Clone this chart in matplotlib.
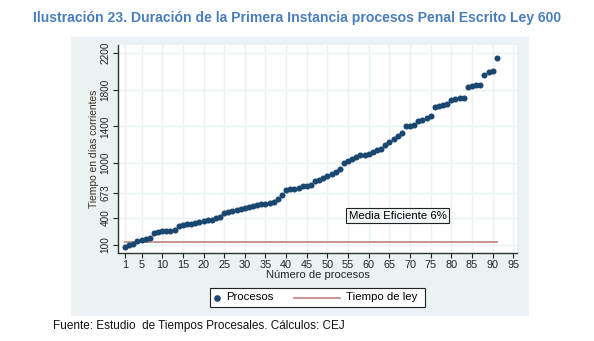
import matplotlib
matplotlib.use("Agg")
import matplotlib.pyplot as plt
import matplotlib.patches as mpatches
from matplotlib.lines import Line2D

# duración (días corrientes) de cada proceso, ordenada
procesos = list(range(1, 92))
dias = [75, 100, 115, 140, 150, 170, 180, 235, 245, 248,
        250, 255, 262, 305, 318, 325, 332, 340, 348, 358,
        368, 378, 390, 410, 455, 460, 470, 488, 495, 505,
        515, 525, 535, 545, 552, 560, 575, 600, 650, 700,
        710, 715, 725, 742, 750, 760, 800, 815, 838, 855,
        875, 895, 935, 1000, 1020, 1040, 1060, 1080, 1090, 1100,
        1120, 1135, 1150, 1190, 1230, 1260, 1290, 1330, 1400, 1405,
        1410, 1460, 1470, 1490, 1515, 1615, 1625, 1635, 1645, 1690,
        1700, 1705, 1705, 1830, 1840, 1850, 1855, 1960, 1995, 2005,
        2150]
tiempo_ley = 130
y_ticks = [100, 400, 673, 1000, 1400, 1800, 2200]
x_ticks = [1] + list(range(5, 100, 5))

navy = '#1a476f'
ley_color = '#c98a8c'
region_bg = '#eaf2f3'

plt.rcParams['font.family'] = ['Liberation Sans', 'DejaVu Sans']

W, H = 594, 341
fig = plt.figure(figsize=(W / 100, H / 100), dpi=100)
fig.patch.set_facecolor('white')


def fx(px):
    return px / W


def fy(py):
    return 1 - py / H


# graph region (light blue box)
fig.patches.append(mpatches.Rectangle((fx(71), fy(316)), 458 / W, 279 / H,
                                      transform=fig.transFigure, facecolor=region_bg,
                                      edgecolor='none', zorder=-10))

ax = fig.add_axes([fx(118), fy(253), 399 / W, 208 / H])
ax.set_facecolor('white')
ax.set_xlim(-0.7, 95.9)
ax.set_ylim(12, 2290)

ax.scatter(procesos, dias, s=19, color=navy, zorder=3, linewidths=0)
ax.plot([procesos[0], procesos[-1]], [tiempo_ley, tiempo_ley], color=ley_color,
        lw=1.3, zorder=2)

ax.set_xticks(x_ticks)
ax.set_yticks(y_ticks)
ax.set_yticklabels([str(v) for v in y_ticks], rotation=90, va='center')
ax.tick_params(axis='x', labelsize=7.8, length=3.5, width=0.8, pad=1.5, colors='#222222')
ax.tick_params(axis='y', labelsize=7.2, length=3.5, width=0.8, pad=2, colors='#222222')
ax.grid(True, color=region_bg, lw=1.0, zorder=0)
ax.set_axisbelow(True)
for side in ['top', 'right']:
    ax.spines[side].set_visible(False)
for side in ['left', 'bottom']:
    ax.spines[side].set_color('#333333')
    ax.spines[side].set_linewidth(1.0)

ax.set_xlabel('Número de procesos', fontsize=8, labelpad=0.3, color='#222222')
ax.set_ylabel('Tiempo en días corrientes', fontsize=7.4, labelpad=1, color='#3a3020')

ax.text(67, 420, 'Media Eficiente 6%', fontsize=8.2, ha='center', va='center',
        bbox=dict(boxstyle='square,pad=0.2', facecolor='#f4f8f8', edgecolor='#222222', lw=0.8),
        zorder=4)

# legend, drawn by hand to keep Stata-like spacing
fig.patches.append(mpatches.Rectangle((fx(210), fy(307)), 215 / W, 19 / H,
                                      transform=fig.transFigure, facecolor='white',
                                      edgecolor='#222222', lw=0.8, zorder=5))
fig.lines.append(Line2D([fx(217)], [fy(297.5)], marker='o', ls='none', color=navy,
                        markersize=3.8, transform=fig.transFigure, zorder=6))
fig.text(fx(226), fy(297.5), 'Procesos', fontsize=8.2, ha='left', va='center', zorder=6)
fig.lines.append(Line2D([fx(294), fx(340)], [fy(297.5), fy(297.5)], color=ley_color,
                        lw=1.3, transform=fig.transFigure, zorder=6))
fig.text(fx(346), fy(297.5), 'Tiempo de ley', fontsize=8.2, ha='left', va='center', zorder=6)

fig.text(0.5, fy(18),
         'Ilustración 23. Duración de la Primera Instancia procesos Penal Escrito Ley 600',
         ha='center', va='center', fontsize=10.1, fontweight='bold', color='#4a7ebb')

fig.text(fx(53), fy(326), 'Fuente: Estudio  de Tiempos Procesales. Cálculos: CEJ',
         ha='left', va='center', fontsize=8.5, color='#111111')

fig.savefig('out.png', dpi=100)
